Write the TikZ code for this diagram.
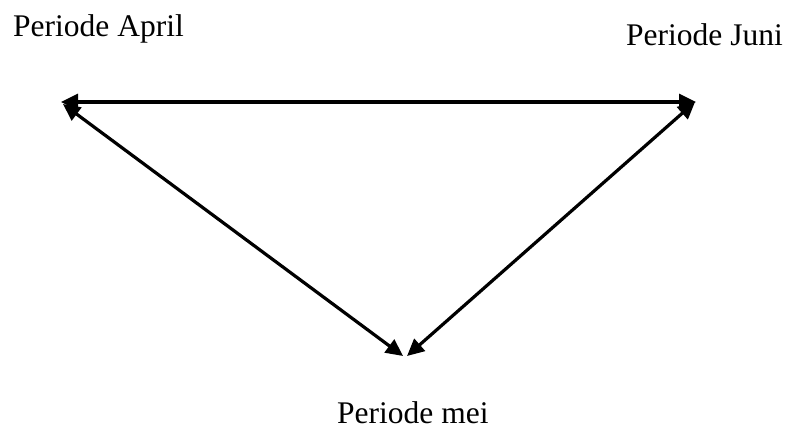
\documentclass[tikz,border=0pt]{standalone}
\usepackage{fontspec}
\setmainfont{Liberation Serif}
\usetikzlibrary{arrows.meta}
\begin{document}
\begin{tikzpicture}[x=1pt,y=-1pt,
  lbl/.style={anchor=base west,inner sep=0pt,font=\fontsize{31.5}{36}\selectfont},
  link/.style={line width=3.2pt,{Triangle[length=17pt,width=16pt]}-{Triangle[length=17pt,width=16pt]}}]
\useasboundingbox (0,0) rectangle (787,430);
\node[lbl] (april) at (13,37) {Periode April};
\node[lbl] (juni) at (626,46) {Periode Juni};
\node[lbl] (mei) at (337,423) {Periode mei};
\coordinate (a) at (61,102);
\coordinate (j) at (696,102);
\coordinate (a2) at (63,104);
\coordinate (j2) at (695,102);
\coordinate (m1) at (403,356);
\coordinate (m2) at (407,356);
\draw[link] (a) -- (j);
\draw[link] (a2) -- (m1);
\draw[link] (j2) -- (m2);
\end{tikzpicture}
\end{document}
